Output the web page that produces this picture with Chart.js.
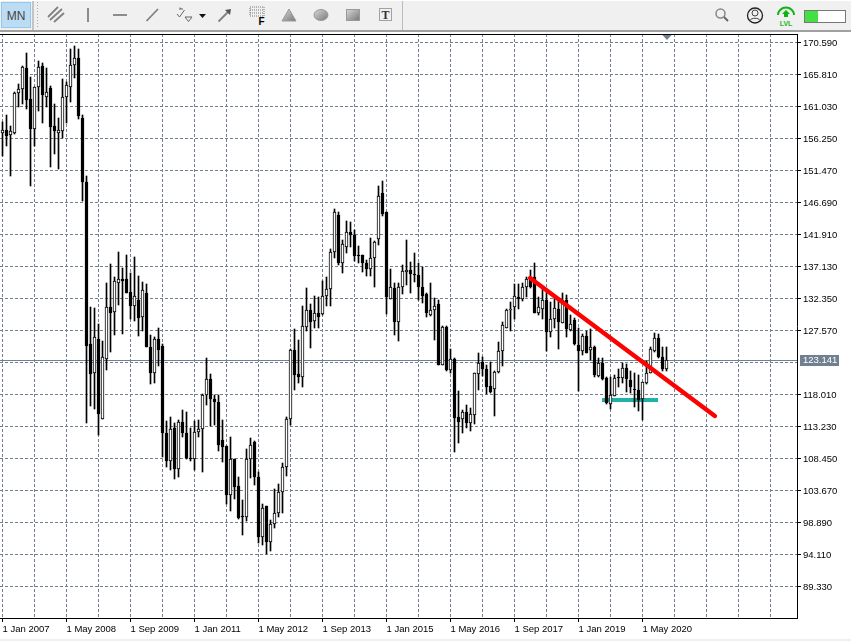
<!DOCTYPE html>
<html>
<head>
<meta charset="utf-8">
<script src="https://cdn.jsdelivr.net/npm/chart.js@4/dist/chart.umd.min.js"></script>
<style>
html,body{margin:0;padding:0;background:#fff;width:851px;height:641px;overflow:hidden}
#chart{position:absolute;left:0;top:0}
#bar{position:absolute;left:0;top:0;width:851px;height:641px;pointer-events:none}
</style>
</head>
<body>
<canvas id="chart" width="851" height="641"></canvas>
<svg id="bar" width="851" height="641" xmlns="http://www.w3.org/2000/svg">
<defs>
<linearGradient id="g1" x1="0" y1="0" x2="1" y2="1"><stop offset="0" stop-color="#d8d8d8"/><stop offset="1" stop-color="#777"/></linearGradient>
</defs>
<rect x="0" y="1" width="851" height="29" fill="#f0f0f0"/>
<rect x="0" y="30" width="851" height="2" fill="#a0a0a0"/>
<rect x="0" y="639" width="851" height="2" fill="#f0f0f0"/>
<rect x="1.5" y="2.5" width="29" height="25" fill="#bcdcf4" stroke="#92c8ee"/>
<text x="16" y="20" font-family="Liberation Sans" font-size="12" fill="#444" text-anchor="middle">MN</text>
<rect x="32" y="1" width="2" height="29" fill="#c4c4c4"/>
<line x1="37.5" y1="2" x2="37.5" y2="29" stroke="#aaa" stroke-dasharray="1 2"/>
<line x1="402.5" y1="1" x2="402.5" y2="30" stroke="#bbb"/>
<g stroke="#808080" stroke-width="1.8" fill="none">
<line x1="48" y1="17" x2="58" y2="7"/><line x1="50" y1="20" x2="62" y2="9"/><line x1="54" y1="22" x2="64" y2="13"/>
<line x1="88" y1="8" x2="88" y2="22"/>
<line x1="113" y1="15" x2="127" y2="15"/>
<line x1="146.500" y1="21" x2="158" y2="9"/>
<line x1="218.500" y1="21.500" x2="229" y2="11"/>
</g>
<g stroke="#666" fill="none" stroke-width="1">
<path d="M177 14l2.500 3 5-7M179 9h4M181 9l-1-1.500"/>
<path d="M185 17h7l-3.500 4.500z"/>
</g>
<path d="M199 14h7l-3.500 4z" fill="#111"/>
<path d="M225 10l6-1-1 6z" fill="#555"/>
<g fill="#777">
<rect x="250" y="7" width="14" height="9" fill="none" stroke="#777" stroke-dasharray="1 1"/>
<line x1="250" y1="10" x2="264" y2="10" stroke="#777" stroke-dasharray="1 1"/>
<line x1="250" y1="13" x2="264" y2="13" stroke="#777" stroke-dasharray="1 1"/>
</g>
<text x="258.500" y="25" font-family="Liberation Sans" font-size="10" font-weight="bold" fill="#000">F</text>
<path d="M289 9l7 12h-14z" fill="url(#g1)" stroke="#999"/>
<ellipse cx="321" cy="15" rx="7" ry="5.500" fill="url(#g1)" stroke="#999"/>
<rect x="346.500" y="9.500" width="13" height="11" fill="url(#g1)" stroke="#999"/>
<rect x="379.500" y="8.500" width="12" height="12" fill="none" stroke="#555" stroke-dasharray="1 1"/>
<text x="385.500" y="19" font-family="Liberation Serif" font-size="12" font-weight="bold" fill="#333" text-anchor="middle">T</text>
<circle cx="720.500" cy="13.500" r="4.500" fill="none" stroke="#888" stroke-width="1.500"/>
<line x1="724" y1="17" x2="728" y2="21" stroke="#666" stroke-width="2"/>
<circle cx="755" cy="15.500" r="7.500" fill="none" stroke="#222" stroke-width="1.300"/>
<circle cx="755" cy="13" r="3" fill="none" stroke="#444"/>
<path d="M750 20.500c1-3 9-3 10 0" fill="none" stroke="#444"/>
<path d="M778 15a8 7.500 0 0 1 16 0" fill="none" stroke="#0cb414" stroke-width="2"/>
<path d="M786 10l4 4h-2v3h-4v-3h-2z" fill="#0cb414"/>
<text x="786" y="25.500" font-family="Liberation Sans" font-size="7" font-weight="bold" fill="#18b820" text-anchor="middle">LVL</text>
<rect x="804.500" y="10.500" width="41" height="12" fill="#fff" stroke="#777"/>
<rect x="805" y="11" width="13" height="11" fill="#44e044"/>
<path d="M662.500 35h9l-4.500 5z" fill="#708090"/>
</svg>
<script>
const openPrices = [
157.12,157.46,156.82,157.12,162.99,163.69,166.78,162.1,157.71,163.89,
167.03,162.49,163.74,158.06,157.12,157.41,162.39,163.89,167.18,168.22,
159.26,149.7,125.5,121.27,126.25,114.3,123.26,131.03,130.38,134.71,
135.21,135.21,133.27,131.28,132.12,129.53,133.17,125.05,121.17,126.25,
125.25,112.2,108.12,112.95,106.82,113.9,112.2,108.52,108.32,112.35,
112.9,117.88,120.28,117.34,116.84,111.2,110.32,102.95,108.37,104.29,
99.86,99.76,108.32,110.86,105.73,96.77,101.35,96.02,98.61,100.26,
103.39,107.13,114.4,124.65,121.07,120.67,128.14,130.58,129.03,130.13,
129.98,132.77,133.72,139.24,144.82,137.7,139.99,142.23,141.83,138.85,
138.8,137.6,136.7,138.45,141.24,148.06,145.22,132.32,133.96,128.89,
134.01,136.26,136.55,135.96,135.86,134.01,133.02,129.93,130.68,131.48,
122.41,128.14,121.67,123.31,114.6,114.3,115.34,113.7,114.99,121.07,
122.81,121.82,119.28,118.78,121.42,124.56,127.99,130.58,131.03,132.62,
132.32,134.02,135.4,135.51,130.13,130.83,132.12,127.29,129.24,130.73,
128.74,132.12,127.64,129.14,125.4,124.55,126.75,124.65,125.15,120.82,
122.66,120.42,116.59,117.83,120.67,120.42,121.92,120.17,118.83,118.68,
117.28,119.77,121.27,124.55,126.4,123.66,121.77];
const highPrices = [
158.66,159.76,158.11,163.24,164.34,167.08,168.97,165.43,163.99,167.77,
167.47,166.78,164.04,161.35,159.26,165.13,164.64,169.62,170.06,169.62,
159.71,150.64,131.03,130.88,128.54,126.05,134.6,137.5,135.61,139.25,
136.85,138.85,136.1,138.5,135.71,134.86,134.46,126.9,126.55,127.89,
125.55,114.1,114.6,113.8,114.2,115.69,115.44,113.0,114.1,114.2,
118.03,123.4,121.07,118.0,118.0,114.2,110.32,111.6,108.37,105.63,
102.25,109.87,111.46,111.06,106.48,101.6,101.35,99.26,103.84,104.59,
107.73,114.7,124.8,127.74,126.15,131.23,133.96,131.52,132.77,132.52,
135.01,135.5,139.74,145.72,145.22,141.1,143.87,143.73,142.58,140.19,
138.85,138.1,141.33,140.94,149.15,149.95,145.22,136.75,134.61,134.61,
137.35,141.04,137.75,139.09,137.6,137.0,133.12,134.61,132.37,132.12,
128.3,128.2,124.8,123.41,118.53,115.69,116.44,116.04,121.27,124.16,
123.66,122.41,122.91,121.57,125.9,128.79,130.73,131.87,134.52,134.47,
134.71,135.51,136.6,137.6,132.62,134.12,133.6,131.87,132.7,132.12,
133.22,132.87,129.88,129.39,128,127.04,127.54,127.74,125.25,123.4,
123.4,120.67,120.67,120.92,121.77,122.76,122.56,121.52,121.27,120.92,
119.92,123.0,125.05,127.14,127.04,125.05,125.15];
const lowPrices = [
153.63,155.12,150.69,156.92,161.0,161.4,160.65,149.2,155.12,160.4,
158.61,161.0,152.04,153.93,151.74,156.27,158.61,161.75,165.33,159.21,
146.96,113.7,116.34,115.84,112.0,114.3,121.72,124.4,126.9,131.38,
127.04,133.1,129.24,129.04,126.75,127.54,125.05,119.57,119.77,122.26,
108.72,107.22,106.72,105.43,105.73,111.6,108.32,108.12,106.72,111.6,
106.42,116.44,113.3,113.45,109.62,107.97,101.6,100.66,102.4,99.4,
97.02,99.11,105.58,104.49,95.8,95.53,94.13,94.68,98.0,99.76,
100.26,105.83,113.45,118.68,119.78,119.08,127.54,125.0,127.99,127.99,
129.88,131.23,131.23,138.45,137.35,136.2,139.19,140.09,138.0,137.6,
136.35,135.71,135.71,134.11,140.34,144.72,130.03,132.32,126.89,126.05,
133.02,134.36,133.22,134.86,132.12,131.62,129.63,129.78,126.15,122.41,
122.41,121.5,121.27,109.47,110.81,112.2,112.95,112.55,113.6,118.68,
120.77,118.08,118.18,114.85,121.27,122.26,127.89,127.49,129.29,130.73,
132.02,132.62,133.9,130.13,129.88,129.29,124.55,126.65,127.9,124.75,
128.64,126.65,127.54,125.4,118.58,123.9,124.16,123.16,120.67,120.67,
120.17,116.59,115.84,117.78,119.18,119.67,118.43,118.18,116.09,115.59,
114.2,119.57,121.27,124.4,123.4,121.57,121.57];
const closePrices = [
157.46,156.62,157.31,162.99,163.69,166.88,162.0,157.71,163.89,166.88,
162.74,163.14,158.01,157.41,157.46,162.39,164.19,167.18,168.22,159.66,
149.7,125.3,121.12,126.64,115.14,123.56,131.03,130.23,134.91,135.21,
135.01,133.22,131.23,132.72,129.43,133.57,125.15,121.27,126.25,124.65,
112.2,108.12,112.8,106.82,113.85,112.2,108.52,108.4,112.35,112.9,
117.88,120.28,117.29,116.84,110.51,110.2,103,108.32,104.24,99.56,
99.76,108.32,110.52,105.73,96.77,101,96.02,98.61,100.26,103.39,
107.13,114.3,124.65,120.92,120.67,128.24,130.58,128.89,130.13,129.63,
132.77,133.72,139.24,145.22,137.6,140.44,142.23,141.83,138.75,138.75,
137.6,136.7,138.45,140.79,147.61,144.97,132.62,134.01,128.89,134.01,
136.4,136.55,136.0,135.86,134.01,132.77,130.13,130.58,131.18,122.41,
128.14,121.67,123.31,114.55,113.95,115.34,113.8,115.09,121.17,122.66,
121.77,119.18,118.43,121.42,124.56,128.34,130.58,130.83,132.77,132.32,
134.02,135.21,134.0,130.13,131.03,132.12,127.29,129.34,130.88,128.89,
132.12,127.74,128.54,125.55,124.55,126.75,124.26,125.05,120.92,122.66,
120.27,116.69,117.93,120.52,120.42,121.92,120.27,119.08,118.63,117.18,
119.82,121.27,124.75,126.4,123.56,121.82,123.16];
const dateLabels = ['1 Jan 2007','1 May 2008','1 Sep 2009','1 Jan 2011','1 May 2012','1 Sep 2013','1 Jan 2015','1 May 2016','1 Sep 2017','1 Jan 2019','1 May 2020'];
const monthsPerLabel = 16;
const monthsPerGridLine = 8;
const gridLineCount = 25;
const priceTicks = [170.59,165.81,161.03,156.25,151.47,146.69,141.91,137.13,132.35,127.57,122.79,118.01,113.23,108.45,103.67,98.89,94.11,89.33];
const hiddenPriceTick = 122.79;
const currentPrice = 123.141;
const trendX = [131.9,178.1];
const trendY = [135.41,114.8];
const supportX = [149.875,163.875];
const supportY = [117.19,117.19];
const priceMax = 171.86, priceMin = 84.625;
const monthMin = -0.625, monthMax = 198.625;

const GRID = '#708090';
const FONT = {family:'Liberation Sans', size:9.5};
const xTicks = [];
for (let k = 0; k < gridLineCount; k++) xTicks.push({value:k*monthsPerGridLine});
const isLabelled = v => v % monthsPerLabel === 0 && v/monthsPerLabel < dateLabels.length;

const crisp = {
  id:'crisp',
  beforeDatasetsDraw(chart){
    chart.data.datasets.forEach((d,i)=>{
      if (d.type !== 'bar') return;
      chart.getDatasetMeta(i).data.forEach(el=>{
        let t = Math.round(Math.min(el.y,el.base)), b = Math.round(Math.max(el.y,el.base));
        if (b <= t) b = t+1;
        el.y = t; el.base = b; el.height = b-t;
      });
    });
    const {ctx,chartArea:a,scales:{y}} = chart;
    const py = Math.round(y.getPixelForValue(currentPrice)-0.5)+0.5;
    ctx.save();
    ctx.strokeStyle = GRID; ctx.lineWidth = 1;
    ctx.beginPath(); ctx.moveTo(a.left,py); ctx.lineTo(a.right,py); ctx.stroke();
    ctx.restore();
  },
  afterDraw(chart){
    const {ctx,chartArea:a,scales:{y}} = chart;
    ctx.save();
    ctx.strokeStyle = '#000'; ctx.lineWidth = 1;
    ctx.beginPath(); ctx.moveTo(a.left,a.top+0.5); ctx.lineTo(a.right+1,a.top+0.5); ctx.stroke();
    const py = Math.round(y.getPixelForValue(currentPrice));
    ctx.fillStyle = GRID;
    ctx.fillRect(800,py-5,39,11);
    ctx.fillStyle = '#fff';
    ctx.font = FONT.size+'px "'+FONT.family+'"';
    ctx.textAlign = 'left'; ctx.textBaseline = 'middle';
    ctx.fillText(currentPrice.toFixed(3),803,py+0.5);
    ctx.restore();
  }
};

new Chart(document.getElementById('chart'),{
  data:{
    datasets:[
      {type:'line',data:trendX.map((x,i)=>({x,y:trendY[i]})),borderColor:'#ff0000',borderWidth:4.5,pointRadius:0,order:1,borderCapStyle:'round'},
      {type:'bar',data:openPrices.map((o,i)=>({x:i,y:[o,closePrices[i]]})),barThickness:3,grouped:false,
        backgroundColor:ctx=>closePrices[ctx.dataIndex]>=openPrices[ctx.dataIndex]?'#ffffff':'#000000',
        borderColor:'#000000',borderWidth:1,borderSkipped:false,order:2},
      {type:'bar',data:highPrices.map((h,i)=>({x:i,y:[lowPrices[i],h]})),barThickness:1,grouped:false,
        backgroundColor:'#000000',borderWidth:0,order:3},
      {type:'line',data:supportX.map((x,i)=>({x,y:supportY[i]})),borderColor:'#20b2aa',borderWidth:4,pointRadius:0,order:4}
    ]
  },
  options:{
    responsive:false,animation:false,
    layout:{padding:{top:34,left:0,right:0,bottom:0}},
    plugins:{legend:{display:false},tooltip:{enabled:false}},
    events:[],
    scales:{
      x:{type:'linear',position:'bottom',min:monthMin,max:monthMax,offset:false,
        afterBuildTicks(s){s.ticks = xTicks.map(t=>({value:t.value}));},
        afterFit(s){s.height = 23;},
        grid:{offset:false,color:GRID,lineWidth:1,drawTicks:true,tickLength:4,tickColor:c=>(c.tick&&isLabelled(c.tick.value))?'#000':'rgba(0,0,0,0)'},
        border:{display:true,color:'#000',width:1,dash:[3,2]},
        ticks:{autoSkip:false,maxRotation:0,minRotation:0,align:'start',padding:2,color:'#000',font:FONT,
          callback:v=>isLabelled(v)?dateLabels[v/monthsPerLabel]:''}
      },
      y:{type:'linear',position:'right',min:priceMin,max:priceMax,
        afterBuildTicks(s){s.ticks = priceTicks.map(value=>({value}));},
        afterFit(s){s.width = 54;},
        grid:{color:GRID,lineWidth:1,drawTicks:true,tickLength:4,tickColor:c=>(c.tick&&c.tick.value===hiddenPriceTick)?'rgba(0,0,0,0)':'#000'},
        border:{display:true,color:'#000',width:1,dash:[3,2]},
        ticks:{autoSkip:false,padding:2,labelOffset:1,color:'#000',font:FONT,
          callback:v=>v===hiddenPriceTick?'':v.toFixed(3)}
      }
    }
  },
  plugins:[crisp]
});
</script>
</body>
</html>
